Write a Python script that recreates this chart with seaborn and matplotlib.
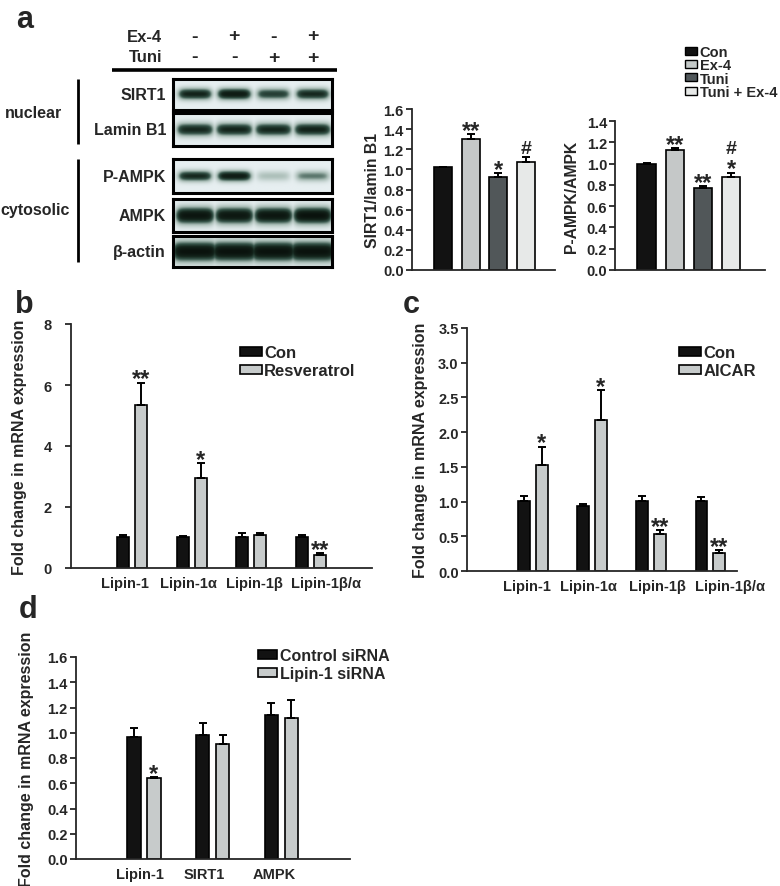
import numpy as np
import pandas as pd
import seaborn as sns
import matplotlib.pyplot as plt
from matplotlib.colors import LinearSegmentedColormap
from matplotlib.lines import Line2D
from matplotlib.patches import Patch
from matplotlib.ticker import FormatStrFormatter
import matplotlib.transforms as mtrans

W, H = 780, 887

# ---- panel a: western blot (band darkness per lane) ----
ex4_signs = ['-', '+', '-', '+']
tuni_signs = ['-', '-', '+', '+']
blot_names = ['SIRT1', 'Lamin B1', 'P-AMPK', 'AMPK', 'β-actin']
sirt1_band = [0.78, 0.88, 0.62, 0.74]
lamin_band = [0.74, 0.76, 0.75, 0.78]
pampk_band = [0.74, 0.86, 0.22, 0.42]
ampk_band = [0.96, 0.92, 0.94, 1.0]
actin_band = [1.0, 1.0, 1.0, 1.0]

# ---- panel a: quantification ----
a_groups = ['Con', 'Ex-4', 'Tuni', 'Tuni + Ex-4']
sirt1_ratio = [1.02, 1.30, 0.92, 1.07]
sirt1_err = [0.005, 0.05, 0.04, 0.05]
sirt1_sig = ['', '**', '*', '#']
pampk_ratio = [1.00, 1.13, 0.77, 0.87]
pampk_err = [0.01, 0.015, 0.02, 0.045]
pampk_sig = ['', '**', '**', '#\n*']

# ---- panel b: resveratrol ----
genes_bc = ['Lipin-1', 'Lipin-1α', 'Lipin-1β', 'Lipin-1β/α']
b_con = [1.03, 1.02, 1.03, 1.03]
b_con_err = [0.06, 0.02, 0.12, 0.06]
b_resv = [5.35, 2.94, 1.09, 0.43]
b_resv_err = [0.73, 0.51, 0.07, 0.05]
b_sig = ['**', '*', '', '**']

# ---- panel c: AICAR ----
c_con = [1.01, 0.93, 1.01, 1.01]
c_con_err = [0.07, 0.04, 0.07, 0.05]
c_aicar = [1.52, 2.18, 0.54, 0.26]
c_aicar_err = [0.27, 0.43, 0.05, 0.04]
c_sig = ['*', '*', '**', '**']

# ---- panel d: lipin-1 siRNA ----
genes_d = ['Lipin-1', 'SIRT1', 'AMPK']
d_ctrl = [0.966, 0.984, 1.143]
d_ctrl_err = [0.075, 0.095, 0.09]
d_si = [0.643, 0.907, 1.116]
d_si_err = [0.005, 0.077, 0.146]
d_sig = ['*', '', '']

a_colors = ['#121212', '#c4c9c8', '#50575a', '#e7e9e8']
pair_colors = ['#121212', '#c6cccb']

sns.set_style('ticks')
plt.rcParams['font.family'] = ['Liberation Sans', 'DejaVu Sans']
plt.rcParams['font.weight'] = 'bold'
plt.rcParams['axes.labelweight'] = 'bold'
plt.rcParams['axes.linewidth'] = 1.3

fig = plt.figure(figsize=(7.8, 8.87), dpi=100)


def fx(px):
    return px / W


def fy(py):
    return 1 - py / H


def add_ax(left, top, right, bottom):
    return fig.add_axes([fx(left), fy(bottom), (right - left) / W, (bottom - top) / H])


def fig_line(x0, y0, x1, y1, lw=2.0):
    fig.add_artist(Line2D([fx(x0), fx(x1)], [fy(y0), fy(y1)], transform=fig.transFigure,
                          color='black', lw=lw, solid_capstyle='butt'))


# ---------------- blot ----------------
blot_cmap = LinearSegmentedColormap.from_list(
    'blot', ['#e7eff1', '#a6bab3', '#36554a', '#14251c', '#0a120d'])
strips = [(sirt1_band, 80, 111, 0.17, 0.40),
          (lamin_band, 114, 147, 0.19, 0.44),
          (pampk_band, 160, 194, 0.15, 0.40),
          (ampk_band, 200, 233, 0.24, 0.46),
          (actin_band, 237, 268, 0.30, 0.54)]
lane_span = 4.05
xs = np.linspace(0, lane_span, 405)
ys = np.linspace(0, 1, 80)
first = None
for (amps, top, bot, thick, half), name in zip(strips, blot_names):
    ax = add_ax(173, top, 332, bot)
    img = np.zeros((len(ys), len(xs)))
    for i, a in enumerate(amps):
        c = 0.56 + i
        hx = 1 / (1 + np.exp((np.abs(xs - c) - half) / 0.05))
        vy = np.exp(-((ys - 0.5) / thick) ** 2)
        img = np.maximum(img, a * np.outer(vy, hx))
    ax.imshow(img, cmap=blot_cmap, vmin=0, vmax=1, aspect='auto',
              extent=(0, lane_span, 1, 0), interpolation='bilinear')
    ax.set_xticks([])
    ax.set_yticks([])
    for s in ax.spines.values():
        s.set_linewidth(2.2)
        s.set_color('black')
    fig.text(fx(166), fy((top + bot) / 2), name, ha='right', va='center', fontsize=11.5)
    if first is None:
        first = ax

# treatment header
lane_tr = mtrans.blended_transform_factory(first.transData, fig.transFigure)
for i, (e, t) in enumerate(zip(ex4_signs, tuni_signs)):
    first.text(0.56 + i, fy(37), e, transform=lane_tr, ha='center', va='center', fontsize=14)
    first.text(0.56 + i, fy(58), t, transform=lane_tr, ha='center', va='center', fontsize=14)
fig.text(fx(162), fy(38), 'Ex-4', ha='right', va='center', fontsize=12)
fig.text(fx(162), fy(58), 'Tuni', ha='right', va='center', fontsize=12)
fig_line(112, 71, 337, 71, lw=2.6)

fig_line(78, 80, 78, 145)
fig_line(78, 160, 78, 263)
fig.text(fx(34), fy(113), 'nuclear', ha='center', va='center', fontsize=11.5)
fig.text(fx(35), fy(211), 'cytosolic', ha='center', va='center', fontsize=11.5)

for letter, x, y in [('a', 16, 28), ('b', 15, 313), ('c', 403, 313), ('d', 19, 618)]:
    fig.text(fx(x), fy(y), letter, ha='left', va='baseline', fontsize=22, fontweight='bold')


# ---------------- bar helpers ----------------
def put_mark(ax, x, y, mark):
    # marks stacked bottom-up, e.g. '#\n*' puts '*' on the bar and '#' above it
    tokens = mark.split('\n')[::-1]
    for k, tok in enumerate(tokens):
        if tok.startswith('*'):
            size, off = 17, -2
        else:
            size, off = 14, (14 if k > 0 else 3)
        ax.annotate(tok, (x, y), xytext=(0, off), textcoords='offset points',
                    ha='center', va='baseline', fontsize=size, fontweight='bold')


def draw_bars(ax, df, hue, palette, errs, marks, width, gap, legend=False):
    sns.barplot(data=df, x='cat', y='val', hue=hue, palette=palette, width=width, gap=gap,
                errorbar=None, edgecolor='black', linewidth=1.2, ax=ax, legend=legend)
    bars = [p for c in ax.containers for p in c]
    bx = np.array([p.get_x() + p.get_width() / 2 for p in bars])
    by = np.array([p.get_height() for p in bars])
    errs = np.asarray(errs)
    ax.errorbar(bx, by, yerr=[np.zeros(len(errs)), errs], fmt='none', ecolor='black',
                elinewidth=1.4, capsize=3, capthick=1.4)
    for x, y, e, m in zip(bx, by, errs, marks):
        if m:
            put_mark(ax, x, y + e, m)


def style_ax(ax, ymax, step, fmt, ylabel, ypad, label_x, label_size=11.5, xlim=None,
             shifts=None):
    ax.set_ylim(0, ymax)
    ax.set_yticks(np.arange(0, ymax + step / 2, step))
    ax.yaxis.set_major_formatter(FormatStrFormatter(fmt))
    if xlim is not None:
        ax.set_xlim(*xlim)
    ax.set_xlabel('')
    ax.set_ylabel(ylabel, fontsize=label_size)
    ax.yaxis.set_label_coords(label_x, 0.5)
    sns.despine(ax=ax)
    ax.tick_params(axis='y', length=4, width=1.3, pad=ypad, labelsize=10.5)
    ax.tick_params(axis='x', length=0, pad=6, labelsize=10.5)
    for t in ax.get_xticklabels() + ax.get_yticklabels():
        t.set_fontweight('bold')
    if shifts is not None:
        for t, dx in zip(ax.get_xticklabels(), shifts):
            t.set_transform(t.get_transform() +
                            mtrans.ScaledTranslation(dx / 100, 0, fig.dpi_scale_trans))


def pair_df(cats, names, vals):
    rows = [(c, n, v) for n, vv in zip(names, vals) for c, v in zip(cats, vv)]
    return pd.DataFrame(rows, columns=['cat', 'grp', 'val'])


# ---------------- panel a charts ----------------
ax1 = add_ax(412, 110, 555, 271)
df1 = pd.DataFrame({'cat': a_groups, 'val': sirt1_ratio})
draw_bars(ax1, df1, 'cat', a_colors, sirt1_err, sirt1_sig, 0.65, 0)
style_ax(ax1, 1.6, 0.2, '%.1f', 'SIRT1/lamin B1', 2, (380 - 412) / 143, 11.3, (-1.12, 4.04))
ax1.set_xticks([])

ax2 = add_ax(615, 122, 765, 271)
df2 = pd.DataFrame({'cat': a_groups, 'val': pampk_ratio})
draw_bars(ax2, df2, 'cat', a_colors, pampk_err, pampk_sig, 0.65, 0)
style_ax(ax2, 1.4, 0.2, '%.1f', 'P-AMPK/AMPK', 1.5, (579 - 615) / 150, 11.3, (-1.12, 4.2))
ax2.set_xticks([])

a_handles = [Patch(facecolor=c, edgecolor='black', linewidth=1.0) for c in a_colors]
fig.legend(a_handles, a_groups, loc='upper left', bbox_to_anchor=(fx(685), fy(46)),
           frameon=False, fontsize=10.5, handlelength=0.8, handleheight=0.45,
           handletextpad=0.2, labelspacing=-0.05, borderpad=0, borderaxespad=0)

# ---------------- panel b ----------------
axb = add_ax(71, 325, 372, 569)
dfb = pair_df(genes_bc, ['Con', 'Resveratrol'], [b_con, b_resv])
draw_bars(axb, dfb, 'grp', pair_colors, b_con_err + b_resv_err, [''] * 4 + b_sig,
          0.6, 0.33, legend=True)
style_ax(axb, 8, 2, '%d', 'Fold change in mRNA expression', 10, (27 - 71) / 301,
         xlim=(-1.03, 4.03), shifts=[-7, -3, 3, 15])
sns.move_legend(axb, 'upper left', bbox_to_anchor=((240 - 71) / 301, (569 - 346) / 244),
                frameon=False, title=None, fontsize=12, handlelength=1.3, handleheight=0.45,
                handletextpad=0.15, labelspacing=0.2, borderpad=0, borderaxespad=0)

# ---------------- panel c ----------------
axc = add_ax(467, 329, 737, 572)
dfc = pair_df(genes_bc, ['Con', 'AICAR'], [c_con, c_aicar])
draw_bars(axc, dfc, 'grp', pair_colors, c_con_err + c_aicar_err, [''] * 4 + c_sig,
          0.6, 0.33, legend=True)
style_ax(axc, 3.5, 0.5, '%.1f', 'Fold change in mRNA expression', 2, (428 - 467) / 270,
         xlim=(-1.11, 3.45), shifts=[-6, -3, 6, 20])
sns.move_legend(axc, 'upper left', bbox_to_anchor=((679 - 467) / 270, (572 - 346) / 243),
                frameon=False, title=None, fontsize=12, handlelength=1.3, handleheight=0.45,
                handletextpad=0.15, labelspacing=0.2, borderpad=0, borderaxespad=0)

# ---------------- panel d ----------------
axd = add_ax(76, 658, 350, 860)
dfd = pair_df(genes_d, ['Control siRNA', 'Lipin-1 siRNA'], [d_ctrl, d_si])
draw_bars(axd, dfd, 'grp', pair_colors, d_ctrl_err + d_si_err, [''] * 3 + d_sig,
          0.58, 0.33, legend=True)
style_ax(axd, 1.6, 0.2, '%.1f', 'Fold change in mRNA expression', 2, (34 - 76) / 274,
         xlim=(-0.99, 3.0), shifts=[-4, -8, -7])
sns.move_legend(axd, 'upper left', bbox_to_anchor=((258 - 76) / 274, (860 - 649) / 202),
                frameon=False, title=None, fontsize=11.5, handlelength=1.2, handleheight=0.45,
                handletextpad=0.2, labelspacing=0.2, borderpad=0, borderaxespad=0)

fig.savefig('out.png', dpi=100, facecolor='white')
